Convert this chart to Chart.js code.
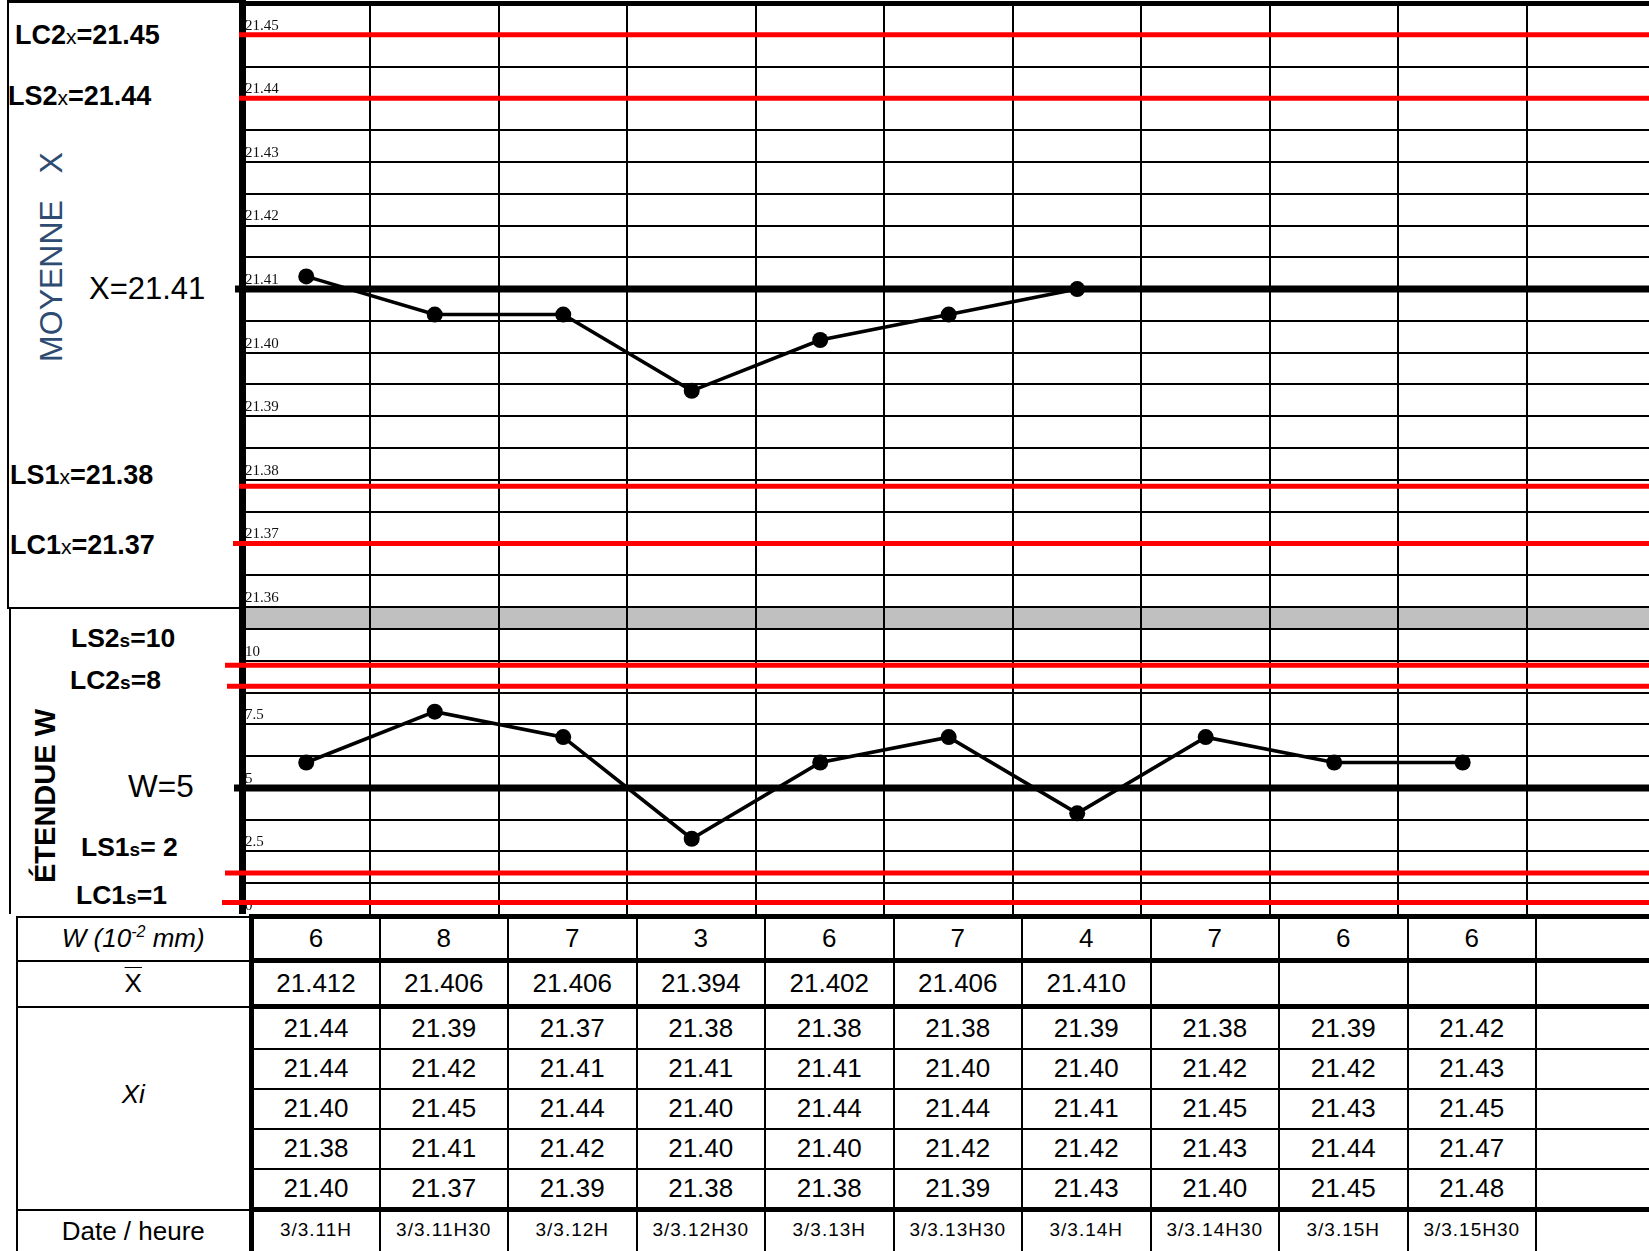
<!DOCTYPE html>
<html>
<head>
<meta charset="utf-8">
<script src="https://cdn.jsdelivr.net/npm/chart.js@4.4.1/dist/chart.umd.min.js"></script>
<style>
html,body{margin:0;padding:0;background:#fff;}
body{width:1649px;height:1251px;position:relative;overflow:hidden;font-family:"Liberation Sans",Arial,sans-serif;color:#000;}
#cx{position:absolute;left:0;top:-9px;z-index:2;}
#cw{position:absolute;left:0;top:595px;z-index:1;}
.box{position:absolute;box-sizing:border-box;}
.lbl{position:absolute;white-space:pre;line-height:1;}
.bx{font-weight:bold;font-size:27px;}
.bx .sub{font-weight:normal;font-size:21px;}
.bs{font-weight:bold;font-size:26.5px;}
.bs .sub{font-weight:bold;font-size:19px;}
.rg{font-size:31px;}
.rot{position:absolute;white-space:pre;line-height:1;transform:translate(-50%,-50%) rotate(-90deg);}
#tbl{position:absolute;left:16px;top:914px;border-collapse:collapse;table-layout:fixed;width:1648px;z-index:3;background:#fff;}
#tbl td,#tbl th{padding:0;text-align:center;vertical-align:middle;font-weight:normal;font-size:26px;border:2px solid #000;white-space:nowrap;overflow:hidden;}
#tbl th{border-right:5px solid #000;}
#tbl col.c0{width:234px;}
#tbl col.cd{width:128.5px;}
#tbl col.ce{width:130px;}
#tbl tr.r-w td{border-top:5px solid #000;border-bottom:5px solid #000;}
#tbl tr.r-m td{border-bottom:5px solid #000;}
#tbl tr.r-x4 td{border-bottom:5px solid #000;}
#tbl tr.r-w{height:44px;}
#tbl tr.r-m{height:46px;}
#tbl tr.r-x0{height:42px;}
#tbl tr.r-x1,#tbl tr.r-x2,#tbl tr.r-x3{height:40px;}
#tbl tr.r-x4{height:41px;}
#tbl tr.r-d{height:46px;}
#tbl tr.r-d td{vertical-align:top;font-size:19px;letter-spacing:1px;padding-top:7px;}
#tbl tr.r-d th{vertical-align:top;padding-top:5px;}
#tbl th.wl{font-style:italic;}
#tbl th.wl sup{font-size:16px;}
#tbl th.xi{padding-bottom:28px;font-style:italic;}
.ovl{text-decoration:overline;text-decoration-thickness:1px;}
</style>
</head>
<body>
<canvas id="cx" width="1649" height="628"></canvas>
<canvas id="cw" width="1649" height="332"></canvas>

<div class="box" style="left:7px;top:0;width:236px;height:609px;border-left:2px solid #000;border-top:3px solid #000;border-bottom:2px solid #000;"></div>
<div class="box" style="left:9px;top:608px;width:234px;height:306px;border-left:2px solid #000;"></div>

<div class="lbl bx" style="left:15px;top:22px">LC2<span class="sub">x</span>=21.45</div>
<div class="lbl bx" style="left:8px;top:83px">LS2<span class="sub">x</span>=21.44</div>
<div class="rot" style="left:51px;top:257px;color:#2E4B72;font-size:32px">MOYENNE   X</div>
<div class="lbl rg" style="left:89px;top:273px">X=21.41</div>
<div class="lbl bx" style="left:10px;top:462px">LS1<span class="sub">x</span>=21.38</div>
<div class="lbl bx" style="left:10px;top:532px">LC1<span class="sub">x</span>=21.37</div>

<div class="lbl bs" style="left:71px;top:625px">LS2<span class="sub">s</span>=10</div>
<div class="lbl bs" style="left:70px;top:667px">LC2<span class="sub">s</span>=8</div>
<div class="rot" style="left:45px;top:796px;font-weight:bold;font-size:29px">ÉTENDUE W</div>
<div class="lbl rg" style="left:128px;top:771px;font-size:31.5px">W=5</div>
<div class="lbl bs" style="left:81px;top:834px">LS1<span class="sub">s</span>= 2</div>
<div class="lbl bs" style="left:76px;top:882px">LC1<span class="sub">s</span>=1</div>

<table id="tbl"></table>

<script>
// ---------- data ----------
const sampleTimes = ['3/3.11H','3/3.11H30','3/3.12H','3/3.12H30','3/3.13H','3/3.13H30','3/3.14H','3/3.14H30','3/3.15H','3/3.15H30'];
const rangeW = [6, 8, 7, 3, 6, 7, 4, 7, 6, 6];
const meanX = [21.412, 21.406, 21.406, 21.394, 21.402, 21.406, 21.410];
const xi1 = [21.44, 21.39, 21.37, 21.38, 21.38, 21.38, 21.39, 21.38, 21.39, 21.42];
const xi2 = [21.44, 21.42, 21.41, 21.41, 21.41, 21.40, 21.40, 21.42, 21.42, 21.43];
const xi3 = [21.40, 21.45, 21.44, 21.40, 21.44, 21.44, 21.41, 21.45, 21.43, 21.45];
const xi4 = [21.38, 21.41, 21.42, 21.40, 21.40, 21.42, 21.42, 21.43, 21.44, 21.47];
const xi5 = [21.40, 21.37, 21.39, 21.38, 21.38, 21.39, 21.43, 21.40, 21.45, 21.48];
// control limits as drawn (LC2, LS2, LS1, LC1) and centre lines
const xLimits = [21.45, 21.44, 21.379, 21.37];
const xCentre = 21.41;
const wLimits = [9.83, 9.0, 1.65, 0.49];
const wCentre = 5;
// axis ranges / tick steps
const xAxisMin = 21.36, xAxisMax = 21.455, xAxisStep = 0.005;
const wAxisMin = 0, wAxisMax = 12.12, wAxisStep = 1.25, wBandFrom = 11.25;
const colSpan = 10.95;

// ---------- helpers ----------
const RED = '#FF0000';
function refLine(value, color, width, lead) {
  return {
    type: 'line',
    data: [{x: -1, y: value}, {x: colSpan + 1, y: value}],
    borderColor: color, borderWidth: width, pointRadius: 0, pointHoverRadius: 0,
    fill: false, tension: 0, order: 2,
    clip: {left: lead, right: 0, top: 10, bottom: 10}
  };
}
function series(values) {
  return {
    type: 'line',
    data: values.map((v, i) => ({x: i + 0.5, y: v})),
    borderColor: '#000', borderWidth: 3.6, tension: 0, fill: false,
    pointRadius: 8, pointHoverRadius: 8, pointBackgroundColor: '#000',
    pointBorderColor: '#000', pointBorderWidth: 0, order: 0, clip: 12
  };
}
function xScale() {
  return {
    type: 'linear', min: 0, max: colSpan,
    afterFit: s => { s.height = 0; },
    ticks: {display: false, stepSize: 1, includeBounds: false},
    grid: {
      drawTicks: false, lineWidth: 2,
      color: c => (c.tick && Math.abs(c.tick.value - Math.round(c.tick.value)) < 1e-9) ? '#000' : 'rgba(0,0,0,0)'
    },
    border: {display: false}
  };
}
const bandPlugin = {
  id: 'band',
  beforeDraw(chart, args, opts) {
    if (opts.from === undefined) return;
    const {ctx, chartArea, scales} = chart;
    const yb = scales.y.getPixelForValue(opts.from);
    ctx.save();
    ctx.fillStyle = opts.color || '#C0C0C0';
    ctx.fillRect(chartArea.left, chartArea.top, chartArea.right - chartArea.left, yb - chartArea.top);
    ctx.restore();
  }
};

const tickFont = {family: '"Liberation Serif", "Times New Roman", serif', size: 15};

// ---------- upper chart : moyenne X ----------
new Chart(document.getElementById('cx'), {
  type: 'line',
  data: {
    datasets: [
      series(meanX),
      refLine(xLimits[0], RED, 5, 3),
      refLine(xLimits[1], RED, 5, 3),
      refLine(xLimits[2], RED, 5, 3),
      refLine(xLimits[3], RED, 5, 9),
      refLine(xCentre, '#000', 7, 7)
    ]
  },
  options: {
    responsive: false, animation: false, events: [],
    layout: {autoPadding: false, padding: {left: 242, top: 12, right: 0, bottom: 12}},
    plugins: {legend: {display: false}, tooltip: {enabled: false}},
    scales: {
      x: xScale(),
      y: {
        type: 'linear', min: xAxisMin, max: xAxisMax,
        afterFit: s => { s.width = 0; },
        ticks: {
          stepSize: xAxisStep, mirror: true, padding: 3, labelOffset: -9, autoSkip: false,
          font: tickFont, color: '#111',
          callback: v => (Math.round(v * 1000) % 10 === 0) ? v.toFixed(2) : ''
        },
        grid: {
          drawTicks: false, color: '#000',
          lineWidth: c => (c.tick && Math.abs(c.tick.value - xAxisMax) < 1e-9) ? 5 : 2
        },
        border: {display: true, color: '#000', width: 7}
      }
    }
  }
});

// ---------- lower chart : étendue W ----------
new Chart(document.getElementById('cw'), {
  type: 'line',
  data: {
    datasets: [
      series(rangeW),
      refLine(wLimits[0], RED, 5, 17),
      refLine(wLimits[1], RED, 5, 15),
      refLine(wLimits[2], RED, 5, 17),
      refLine(wLimits[3], RED, 5, 20),
      refLine(wCentre, '#000', 7, 8)
    ]
  },
  plugins: [bandPlugin],
  options: {
    responsive: false, animation: false, events: [],
    layout: {autoPadding: false, padding: {left: 242, top: 12, right: 0, bottom: 12}},
    plugins: {legend: {display: false}, tooltip: {enabled: false}, band: {from: wBandFrom, color: '#C0C0C0'}},
    scales: {
      x: xScale(),
      y: {
        type: 'linear', min: wAxisMin, max: wAxisMax,
        afterFit: s => { s.width = 0; },
        ticks: {
          stepSize: wAxisStep, mirror: true, padding: 3, labelOffset: -9, autoSkip: false, includeBounds: false,
          font: tickFont, color: '#111',
          callback: v => (Math.round(v * 100) % 250 === 0) ? String(v) : ''
        },
        grid: {drawTicks: false, color: '#000', lineWidth: 2},
        border: {display: true, color: '#000', width: 7}
      }
    }
  }
});

// ---------- table ----------
(function buildTable() {
  const N = sampleTimes.length;
  const cell = v => `<td>${v}</td>`;
  const padRow = arr => { const a = arr.slice(); while (a.length < N) a.push(''); return a; };
  let h = '<colgroup><col class="c0">' + '<col class="cd">'.repeat(N) + '<col class="ce"></colgroup>';
  h += '<tr class="r-w"><th class="wl">W (10<sup>-2</sup> mm)</th>' + rangeW.map(cell).join('') + '<td></td></tr>';
  h += '<tr class="r-m"><th><span class="ovl">X</span></th>' + padRow(meanX.map(v => v.toFixed(3))).map(cell).join('') + '<td></td></tr>';
  const xiRows = [xi1, xi2, xi3, xi4, xi5];
  xiRows.forEach((row, r) => {
    h += `<tr class="r-x r-x${r}">` + (r === 0 ? '<th rowspan="5" class="xi">Xi</th>' : '') +
         row.map(v => v.toFixed(2)).map(cell).join('') + '<td></td></tr>';
  });
  h += '<tr class="r-d"><th>Date / heure</th>' + sampleTimes.map(cell).join('') + '<td></td></tr>';
  document.getElementById('tbl').innerHTML = h;
})();
</script>
</body>
</html>
